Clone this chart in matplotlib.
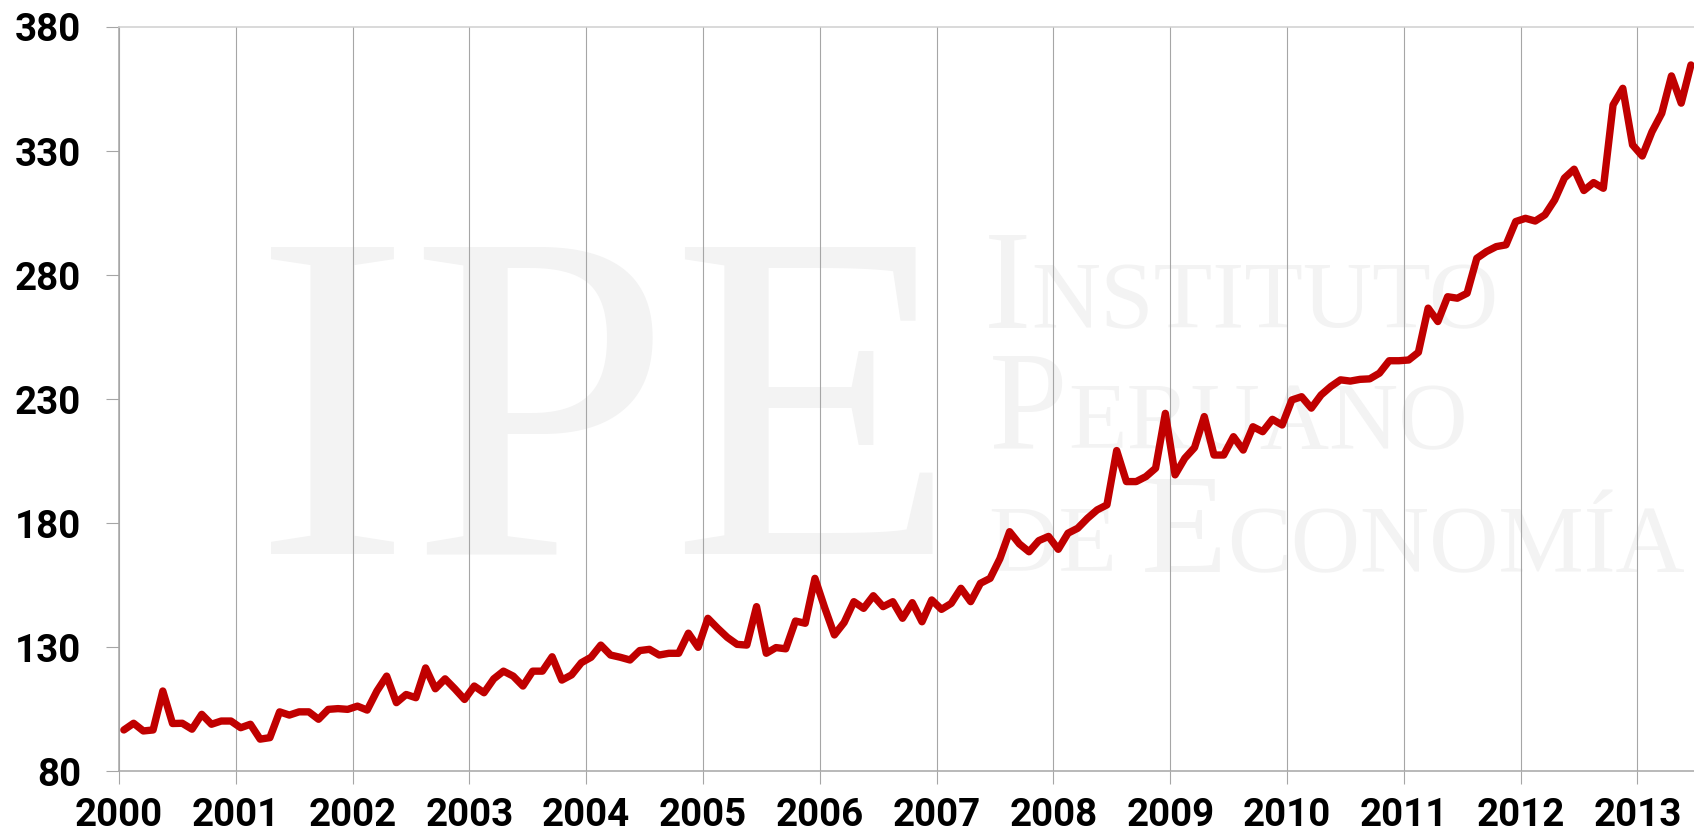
import numpy as np
import matplotlib
matplotlib.use("Agg")
import matplotlib.pyplot as plt

# monthly series, Jan 2000 - Jun 2013
years = list(range(2000, 2014))
values = [
    96.7, 99.4, 96.3, 96.7, 112.4, 99.3, 99.4, 97.0, 103.0, 99.0, 100.3, 100.3,        # 2000
    97.6, 99.0, 93.0, 93.6, 104.0, 102.7, 104.0, 104.0, 101.0, 105.0, 105.3, 105.0,    # 2001
    106.3, 104.7, 112.4, 118.4, 107.7, 111.0, 109.7, 121.7, 113.3, 117.3, 113.3, 109.0,  # 2002
    114.4, 111.7, 117.3, 120.4, 118.4, 114.4, 120.4, 120.4, 126.2, 116.8, 118.9, 123.8,  # 2003
    126.0, 130.9, 126.9, 126.0, 124.9, 128.7, 129.2, 126.9, 127.6, 127.6, 135.7, 130.0,  # 2004
    141.7, 137.7, 134.0, 131.2, 130.9, 146.4, 127.6, 129.9, 129.4, 140.6, 139.7, 157.8,  # 2005
    146.0, 135.0, 140.0, 148.4, 145.7, 150.8, 146.4, 148.4, 141.7, 148.0, 140.3, 149.1,  # 2006
    145.3, 147.7, 153.8, 148.4, 155.8, 157.8, 165.7, 176.6, 171.7, 168.5, 173.0, 174.7,  # 2007
    169.5, 176.0, 178.0, 182.0, 185.4, 187.4, 209.3, 196.8, 196.8, 198.8, 202.2, 224.3,  # 2008
    199.5, 206.2, 210.5, 223.0, 207.5, 207.5, 214.9, 209.5, 218.9, 216.9, 221.9, 219.6,  # 2009
    229.7, 231.0, 226.4, 231.7, 235.1, 237.8, 237.3, 238.0, 238.2, 240.5, 245.5, 245.5,  # 2010
    245.8, 248.9, 266.7, 261.3, 271.3, 270.7, 272.7, 286.8, 289.5, 291.5, 292.2, 301.6,  # 2011
    302.9, 301.8, 304.3, 310.3, 319.1, 322.7, 314.1, 317.3, 315.0, 348.6, 355.3, 332.5,  # 2012
    328.0, 337.8, 345.2, 360.3, 349.3, 364.7,                                            # 2013
]
y_ticks = [80, 130, 180, 230, 280, 330, 380]

# points sit in the middle of each month
fechas = 2000 + (np.arange(len(values)) + 0.5) / 12.0

W, H = 1694, 832
fig = plt.figure(figsize=(W / 100, H / 100), dpi=100)
ax = fig.add_axes([119 / W, 1 - 771.4 / H, 1 - 119 / W, (771.4 - 27) / H])
ax.set_facecolor("none")

ax.plot(fechas, values, color="#C00000", lw=5.3, solid_joinstyle="round",
        solid_capstyle="round", zorder=3)

ax.set_xlim(2000, 2000 + (W - 119) / 116.8)
ax.set_ylim(80, 380)
ax.set_xticks(years)
ax.set_xticklabels([str(a) for a in years])
ax.set_yticks(y_ticks)
ax.set_axisbelow(True)
ax.grid(axis="x", color="#A6A6A6", lw=0.8)

for lbl in ax.get_xticklabels() + ax.get_yticklabels():
    lbl.set_fontfamily("Roboto")
    lbl.set_fontweight("bold")
    lbl.set_fontsize(27.7)
ax.tick_params(axis="x", direction="out", length=9.4, width=0.8, color="#A6A6A6", pad=9)
ax.tick_params(axis="y", direction="out", length=9.4, width=0.8, color="#A6A6A6", pad=18)

ax.spines["right"].set_visible(False)
ax.spines["top"].set_color("#CFCFCF")
ax.spines["left"].set_color("#A6A6A6")
ax.spines["bottom"].set_color("#A6A6A6")
for s in ["top", "left", "bottom"]:
    ax.spines[s].set_linewidth(1.1)

# watermark
wm = "#F3F3F3"
fig.text(254 / W, 1 - 554 / H, "IPE", fontsize=338, family="Liberation Serif",
         color=wm, va="baseline", zorder=-1)

fig.canvas.draw()
rend = fig.canvas.get_renderer()


def versalitas(x, y, partes):
    for txt, tam in partes:
        t = fig.text(x / W, 1 - y / H, txt, fontsize=tam, family="Liberation Serif",
                     color=wm, va="baseline", zorder=-1)
        x = t.get_window_extent(rend).x1


versalitas(984, 328, [("I", 102), ("NSTITUTO", 69)])
versalitas(989, 449, [("P", 102), ("ERUANO", 69)])
versalitas(989, 572, [("DE ", 69), ("E", 102), ("CONOMÍA", 69)])

fig.savefig("out.png", dpi=100)
